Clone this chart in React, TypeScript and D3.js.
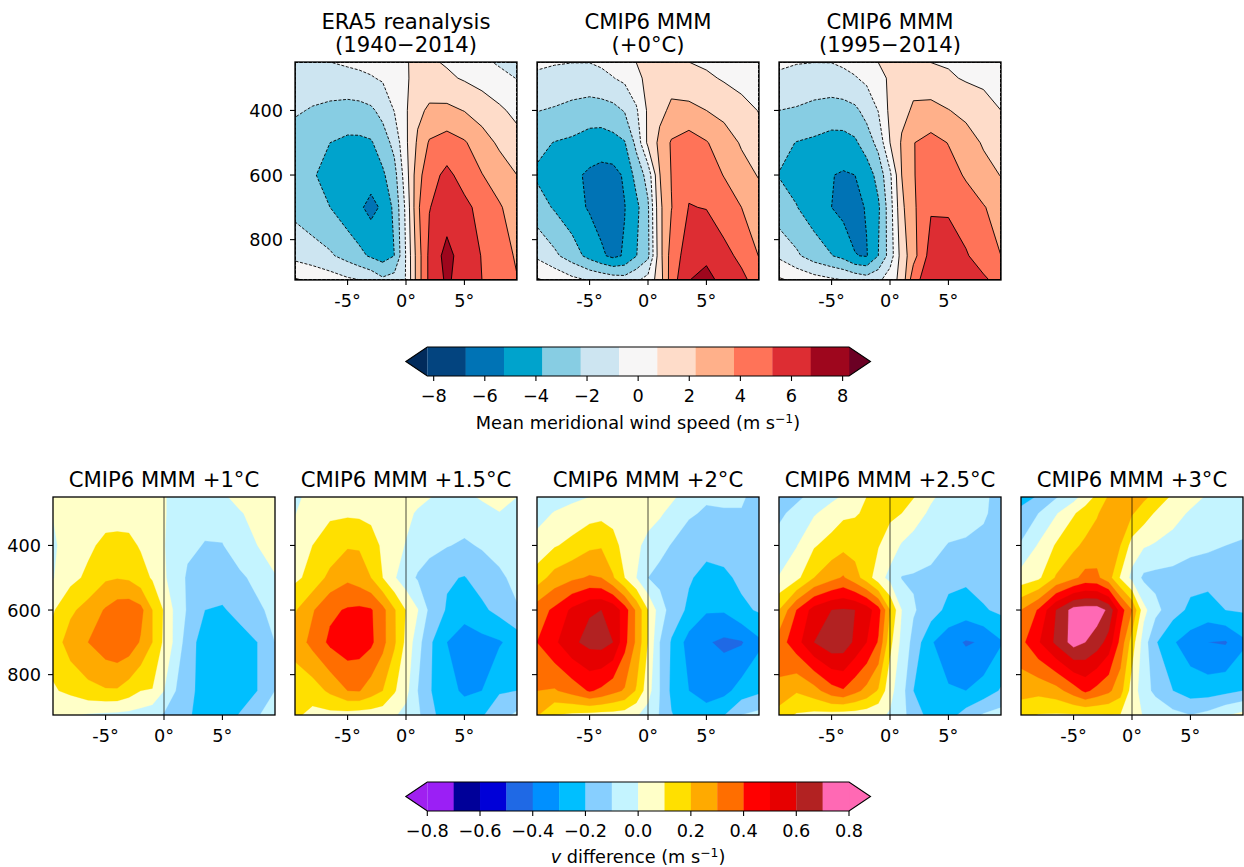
import React from "react";
import * as d3 from "d3";

const lats = [-9.5, -8, -6.5, -5, -4, -3, -2, -1, 0, 1, 2, 3.5, 5, 6.5, 8, 9.5];
const levelsP = [250, 300, 400, 500, 600, 700, 850, 925];
const yTickVals = [400, 600, 800];
const xTickVals = [-5, 0, 5];
const xTickText = ["-5°", "0°", "5°"];

const era5 = [
  [-1.4,-1.0,-0.75,-0.55,-0.45,-0.35,-0.25,-0.1,0.65,1.1,0.95,0.6,0.2,-0.45,-0.95,-1.4],
  [-1.8,-1.6,-1.4,-1.2,-1.05,-0.85,-0.6,-0.3,0.6,1.2,1.4,1.0,0.6,0.2,-0.3,-0.8],
  [-2.1,-2.35,-2.6,-2.8,-2.75,-2.5,-1.8,-0.7,0.6,1.9,2.5,2.6,2.2,1.6,1.0,0.35],
  [-2.8,-3.3,-3.75,-4.05,-4.05,-3.9,-3.0,-1.8,0.5,2.5,3.9,4.4,3.9,2.9,2.0,1.3],
  [-3.0,-3.6,-4.3,-4.6,-4.7,-4.6,-4.0,-2.8,0.1,3.2,4.7,5.6,4.7,3.8,3.0,2.25],
  [-2.7,-3.2,-3.75,-4.6,-5.0,-5.7,-5.0,-3.4,-0.4,3.5,5.2,5.9,5.6,4.8,3.9,3.0],
  [-1.2,-1.6,-2.05,-2.8,-3.4,-3.95,-4.4,-3.75,-0.65,3.0,5.6,7.3,5.9,5.2,4.3,3.6],
  [0.9,0.5,0,-0.5,-0.72,-1.1,-1.95,-1.6,-0.7,3.0,5.6,7.0,6.0,5.25,4.5,3.8],
];
const mmm0 = [
  [-0.55,-0.65,-0.72,-0.72,-0.55,-0.3,0.1,0.77,1.2,1.4,1.2,0.75,0.5,0.3,0.15,0.05],
  [-0.95,-1.15,-1.3,-1.3,-1.1,-0.8,-0.45,0.3,1.2,1.6,1.8,1.5,1.0,0.6,0.3,0.1],
  [-2.2,-2.4,-2.7,-2.95,-2.9,-2.7,-2.15,-0.95,1.0,1.9,2.5,2.55,2.25,1.8,1.2,0.7],
  [-3.4,-3.8,-4.0,-4.4,-4.5,-4.25,-3.85,-1.85,1.1,2.6,3.9,4.5,3.85,3.0,2.1,1.2],
  [-3.95,-4.3,-4.9,-5.5,-5.75,-5.75,-5.05,-3.2,-1.7,2.2,3.8,4.9,4.4,3.7,2.8,2.15],
  [-3.1,-3.9,-4.7,-5.4,-5.85,-5.9,-5.3,-4.15,-2.45,1.9,3.7,5.3,5.2,4.45,3.75,2.9],
  [-1.0,-1.95,-3.0,-4.25,-5.0,-5.6,-5.1,-3.8,-2.6,1.7,4.4,6.0,6.3,5.7,4.9,3.7],
  [0.9,0.4,-0.35,-0.85,-1.1,-1.4,-1.6,-1.0,-0.2,1.5,4.5,6.7,7.4,6.1,5.6,4.6],
];
const mmmRecent = [
  [-0.6,-0.68,-0.73,-0.72,-0.55,-0.3,0.0,0.77,1.15,1.3,1.15,0.72,0.6,0.45,0.3,0.15],
  [-0.9,-1.15,-1.3,-1.3,-1.1,-0.85,-0.45,0.2,1.0,1.5,1.9,1.65,0.95,0.6,0.45,0.3],
  [-2.25,-2.4,-2.7,-2.9,-2.85,-2.55,-1.75,-0.7,1.1,1.9,2.4,2.55,2.3,1.85,1.3,0.75],
  [-3.3,-3.8,-4.0,-4.3,-4.3,-4.0,-3.0,-1.8,0.75,2.4,3.7,4.3,3.7,2.9,2.1,1.25],
  [-3.8,-4.2,-4.8,-5.2,-5.4,-5.25,-4.6,-3.2,-1.05,2.25,3.65,4.7,4.3,3.6,2.75,2.2],
  [-3.2,-3.7,-4.5,-5.25,-5.7,-5.8,-5.1,-4.0,-1.4,1.9,3.5,5.1,5.05,4.4,3.85,3.1],
  [-1.0,-2.0,-3.0,-3.7,-4.2,-5.2,-5.35,-3.75,-1.6,1.4,3.2,5.9,6.0,5.4,4.5,3.75],
  [0.95,0.45,-0.1,-0.5,-0.75,-1.1,-1.5,-1.1,0.1,1.2,4.7,6.2,6.4,6.0,5.5,4.7],
];
const diff1 = [
  [0.01,0.04,0.05,0.05,0.05,0.05,0.04,0.02,0.005,-0.02,-0.04,-0.05,-0.01,0.02,0.04,0.05],
  [0.002,0.04,0.05,0.06,0.06,0.06,0.05,0.04,0.005,-0.02,-0.05,-0.07,-0.05,-0.005,0.02,0.04],
  [-0.01,0.03,0.08,0.125,0.13,0.125,0.09,0.05,0.005,-0.05,-0.08,-0.105,-0.105,-0.04,0.0,0.03],
  [-0.005,0.07,0.12,0.185,0.195,0.185,0.14,0.09,0.01,-0.04,-0.115,-0.17,-0.15,-0.12,-0.07,-0.005],
  [0.09,0.18,0.24,0.31,0.35,0.36,0.33,0.2,0.09,-0.03,-0.11,-0.2,-0.21,-0.17,-0.12,-0.07],
  [0.14,0.25,0.3,0.36,0.38,0.36,0.29,0.2,0.08,-0.03,-0.15,-0.25,-0.26,-0.24,-0.2,-0.1],
  [0.09,0.12,0.17,0.19,0.19,0.15,0.1,0.095,0.0,-0.1,-0.17,-0.24,-0.25,-0.24,-0.2,-0.1],
  [0.05,0.01,-0.01,-0.02,-0.025,-0.03,-0.04,-0.07,-0.11,-0.14,-0.19,-0.23,-0.24,-0.195,-0.105,-0.07],
];
const diff15 = [
  [-0.02,0.03,0.05,0.06,0.06,0.06,0.06,0.05,0.04,0.025,0.005,-0.035,-0.02,0.01,0.02,0.0],
  [-0.005,0.07,0.09,0.085,0.08,0.07,0.05,0.03,0.02,-0.01,-0.04,-0.07,-0.05,-0.03,-0.002,-0.015],
  [0.05,0.1,0.13,0.19,0.19,0.15,0.08,0.03,-0.005,-0.05,-0.08,-0.095,-0.115,-0.09,-0.06,-0.03],
  [0.08,0.13,0.23,0.28,0.25,0.2,0.1,0.01,-0.06,-0.11,-0.13,-0.19,-0.205,-0.16,-0.12,-0.07],
  [0.19,0.29,0.38,0.41,0.42,0.41,0.33,0.21,0.095,0.005,-0.12,-0.21,-0.27,-0.22,-0.17,-0.11],
  [0.24,0.33,0.42,0.46,0.45,0.42,0.33,0.215,0.075,-0.06,-0.18,-0.3,-0.34,-0.33,-0.31,-0.26],
  [0.14,0.15,0.22,0.3,0.305,0.25,0.2,0.11,0.03,-0.1,-0.19,-0.28,-0.31,-0.3,-0.21,-0.2],
  [0.12,0.07,0.07,0.06,0.05,0.05,0.04,0.01,-0.03,-0.08,-0.17,-0.25,-0.27,-0.21,-0.14,-0.08],
];
const diff2 = [
  [-0.05,-0.04,-0.02,0.0,0.02,0.03,0.04,0.05,0.05,0.03,0.02,-0.05,-0.09,-0.08,-0.09,-0.13],
  [-0.03,0.005,0.03,0.06,0.07,0.07,0.06,0.05,0.04,0.015,-0.03,-0.09,-0.11,-0.11,-0.105,-0.13],
  [0.03,0.09,0.13,0.18,0.19,0.13,0.07,0.02,-0.03,-0.07,-0.105,-0.14,-0.17,-0.16,-0.15,-0.15],
  [0.15,0.24,0.28,0.31,0.3,0.21,0.1,0.0,-0.1,-0.13,-0.15,-0.19,-0.23,-0.22,-0.18,-0.16],
  [0.35,0.42,0.52,0.59,0.6,0.57,0.45,0.28,0.1,-0.05,-0.14,-0.22,-0.29,-0.29,-0.22,-0.19],
  [0.4,0.48,0.58,0.63,0.64,0.6,0.43,0.28,0.095,-0.1,-0.21,-0.34,-0.39,-0.42,-0.41,-0.32],
  [0.3,0.29,0.34,0.41,0.38,0.33,0.29,0.19,0.04,-0.1,-0.22,-0.3,-0.33,-0.33,-0.26,-0.22],
  [0.21,0.1,0.08,0.07,0.06,0.06,0.05,0.01,-0.04,-0.105,-0.195,-0.25,-0.27,-0.205,-0.1,-0.07],
];
const diff25 = [
  [-0.15,-0.12,-0.07,-0.02,0.01,0.06,0.1,0.14,0.15,0.13,0.105,0.015,-0.04,-0.07,-0.09,-0.12],
  [-0.12,-0.07,-0.01,0.04,0.08,0.09,0.115,0.13,0.12,0.1,0.05,-0.02,-0.05,-0.07,-0.09,-0.13],
  [-0.06,-0.005,0.09,0.14,0.17,0.16,0.15,0.105,0.05,-0.01,-0.04,-0.07,-0.105,-0.11,-0.12,-0.13],
  [0.005,0.07,0.2,0.27,0.31,0.24,0.15,0.04,-0.03,-0.105,-0.11,-0.12,-0.17,-0.18,-0.16,-0.13],
  [0.2,0.4,0.54,0.6,0.61,0.6,0.55,0.44,0.2,0.0,-0.09,-0.15,-0.23,-0.25,-0.21,-0.18],
  [0.35,0.46,0.6,0.67,0.66,0.58,0.5,0.39,0.13,-0.03,-0.13,-0.29,-0.36,-0.41,-0.39,-0.31],
  [0.28,0.21,0.26,0.36,0.39,0.33,0.27,0.19,0.03,-0.06,-0.2,-0.26,-0.29,-0.3,-0.26,-0.19],
  [0.15,0.09,0.07,0.06,0.05,0.05,0.04,0.02,-0.01,-0.06,-0.16,-0.23,-0.24,-0.16,-0.09,-0.06],
];
const diff3 = [
  [-0.24,-0.19,-0.11,-0.04,0.05,0.12,0.21,0.24,0.25,0.22,0.17,0.08,0.03,-0.01,-0.03,-0.04],
  [-0.17,-0.1,-0.01,0.09,0.14,0.19,0.25,0.25,0.21,0.15,0.09,0.03,-0.01,-0.03,-0.05,-0.06],
  [-0.09,0.01,0.11,0.18,0.22,0.25,0.25,0.2,0.06,0.01,-0.01,-0.03,-0.06,-0.08,-0.1,-0.11],
  [0.04,0.08,0.21,0.28,0.33,0.32,0.24,0.09,-0.03,-0.12,-0.13,-0.14,-0.17,-0.17,-0.15,-0.13],
  [0.3,0.41,0.6,0.74,0.75,0.75,0.68,0.45,0.3,0.03,-0.07,-0.16,-0.22,-0.24,-0.2,-0.19],
  [0.37,0.49,0.62,0.74,0.7,0.65,0.56,0.37,0.15,-0.05,-0.19,-0.29,-0.35,-0.4,-0.41,-0.32],
  [0.24,0.23,0.26,0.35,0.42,0.37,0.32,0.24,0.05,-0.05,-0.13,-0.2,-0.25,-0.25,-0.23,-0.2],
  [0.13,0.095,0.09,0.09,0.09,0.09,0.095,0.095,0.03,-0.005,-0.01,-0.07,-0.1,-0.07,-0.01,0.03],
];

const windLevels = [-8.25,-6.75,-5.25,-3.75,-2.25,-0.75,0.75,2.25,3.75,5.25,6.75,8.25];
const windColors = ["#012b5c","#03447f","#0073b5","#00a3cc","#87cde3","#cde5f1","#f7f6f6","#fedcc9","#ffb08a","#ff7358","#dd2d33","#9e061d","#6b0024"];
const windTicks = [-8,-6,-4,-2,0,2,4,6,8];
const diffLevels = [-0.8,-0.7,-0.6,-0.5,-0.4,-0.3,-0.2,-0.1,0,0.1,0.2,0.3,0.4,0.5,0.6,0.7,0.8];
const diffColors = ["#a020f0","#9b1ff5","#000099","#0000d8","#1f69e5","#0090ff","#00bfff","#87cfff","#c4f4ff","#ffffc8","#ffe000","#ffaa00","#ff6e00","#ff0000","#e60000","#b22222","#ff69b4","#ff69b4"];
const diffTicks = [-0.8,-0.6,-0.4,-0.2,0,0.2,0.4,0.6,0.8];

const FONT = "'DejaVu Sans', sans-serif";
const TICK = 17.7;
const SUP = 12.4;
const TITLE = 21.2;
const PW = 222, PH = 218;

const x0 = d3.scaleLinear().domain([-9.5, 9.5]).range([0, PW]);
const y0 = d3.scaleLinear().domain([250, 925]).range([0, PH]);
const ixX = d3.scaleLinear().domain(d3.range(lats.length)).range(lats.map(v => x0(v)));
const ixY = d3.scaleLinear().domain(d3.range(levelsP.length)).range(levelsP.map(v => y0(v)));
const geo = d3.geoPath();
const fmt = (v: number, d: number) => v.toFixed(d).replace("-", "\u2212");

function bands(grid: number[][], levels: number[]) {
  const n = lats.length, m = levelsP.length;
  const c = d3.contours().size([n, m]).thresholds(levels)(grid.flat());
  return c.map(g => {
    const coords = g.coordinates.map(poly => poly.map(ring => ring.map(([px, py]) => [
      ixX(Math.min(n - 1, Math.max(0, px - 0.5))),
      ixY(Math.min(m - 1, Math.max(0, py - 0.5))),
    ])));
    return { value: g.value, d: geo({ type: "MultiPolygon", coordinates: coords } as any) || "" };
  });
}

function Panel({ id, left, top, grid, levels, colors, lines, yLabels, zero, title }: any) {
  const b = bands(grid, levels);
  return (
    <g transform={`translate(${left},${top})`}>
      <clipPath id={id}><rect width={PW} height={PH} /></clipPath>
      <g clipPath={`url(#${id})`}>
        <rect width={PW} height={PH} fill={colors[0]} />
        {b.map((s, i) => <path key={i} d={s.d} fill={colors[i + 1]} stroke={colors[i + 1]} strokeWidth={0.3} />)}
        {lines && b.map((s, i) => <path key={i} d={s.d} fill="none" stroke="#000" strokeWidth={0.9} strokeDasharray={s.value < 0 ? "3 1.6" : undefined} />)}
        {zero && <line x1={x0(0)} x2={x0(0)} y1={0} y2={PH} stroke="#000" strokeOpacity={0.7} strokeWidth={1} />}
      </g>
      <rect width={PW} height={PH} fill="none" stroke="#000" strokeWidth={1.3} />
      {xTickVals.map((v, i) => (
        <g key={v}>
          <line x1={x0(v)} x2={x0(v)} y1={PH} y2={PH + 5} stroke="#000" strokeWidth={1.1} />
          <text x={x0(v)} y={PH + 27} textAnchor="middle" fontSize={TICK} fontFamily={FONT}>{xTickText[i]}</text>
        </g>
      ))}
      {yTickVals.map(v => (
        <g key={v}>
          <line x1={-5} x2={0} y1={y0(v)} y2={y0(v)} stroke="#000" strokeWidth={1.1} />
          {yLabels && <text x={-12} y={y0(v) + 6.5} textAnchor="end" fontSize={TICK} fontFamily={FONT}>{v}</text>}
        </g>
      ))}
      {title.map((t: string, i: number) => (
        <text key={i} x={PW / 2} y={-10 - (title.length - 1 - i) * 23} textAnchor="middle" fontSize={TITLE} fontFamily={FONT}>{t}</text>
      ))}
    </g>
  );
}

function Colorbar({ top, levels, colors, ticks, digits, children }: any) {
  const L = 427.3, R = 849, H = 29, tip = 21.5;
  const x = d3.scaleLinear().domain([levels[0], levels[levels.length - 1]]).range([L, R]);
  const outline = `M${L},${top}L${R},${top}L${R + tip},${top + H / 2}L${R},${top + H}L${L},${top + H}L${L - tip},${top + H / 2}Z`;
  return (
    <g>
      <path d={`M${L},${top}L${L - tip},${top + H / 2}L${L},${top + H}Z`} fill={colors[0]} />
      <path d={`M${R},${top}L${R + tip},${top + H / 2}L${R},${top + H}Z`} fill={colors[colors.length - 1]} />
      {levels.slice(0, -1).map((v: number, i: number) => (
        <rect key={i} x={x(v)} y={top} width={x(levels[i + 1]) - x(v) + 0.3} height={H} fill={colors[i + 1]} />
      ))}
      <path d={outline} fill="none" stroke="#000" strokeWidth={1.1} />
      {ticks.map((t: number) => (
        <g key={t}>
          <line x1={x(t)} x2={x(t)} y1={top + H} y2={top + H + 5} stroke="#000" strokeWidth={1.1} />
          <text x={x(t)} y={top + H + 26} textAnchor="middle" fontSize={TICK} fontFamily={FONT}>{fmt(t, digits)}</text>
        </g>
      ))}
      {children}
    </g>
  );
}

const topPanels = [
  { id: "t1", left: 295, grid: era5, title: ["ERA5 reanalysis", "(1940\u22122014)"], yLabels: true },
  { id: "t2", left: 537, grid: mmm0, title: ["CMIP6 MMM", "(+0°C)"], yLabels: false },
  { id: "t3", left: 779, grid: mmmRecent, title: ["CMIP6 MMM", "(1995\u22122014)"], yLabels: false },
];
const bottomPanels = [
  { id: "b1", left: 53, grid: diff1, title: ["CMIP6 MMM +1°C"], yLabels: true },
  { id: "b2", left: 295, grid: diff15, title: ["CMIP6 MMM +1.5°C"], yLabels: false },
  { id: "b3", left: 537, grid: diff2, title: ["CMIP6 MMM +2°C"], yLabels: false },
  { id: "b4", left: 779, grid: diff25, title: ["CMIP6 MMM +2.5°C"], yLabels: false },
  { id: "b5", left: 1021, grid: diff3, title: ["CMIP6 MMM +3°C"], yLabels: false },
];

export default function App() {
  return (
    <svg width={1244} height={867} viewBox="0 0 1244 867" style={{ position: "absolute", left: 0, top: 0, background: "#fff" }}>
      {topPanels.map(p => <Panel key={p.id} {...p} top={62} levels={windLevels} colors={windColors} lines zero={false} />)}
      {bottomPanels.map(p => <Panel key={p.id} {...p} top={497} levels={diffLevels} colors={diffColors} lines={false} zero />)}
      <Colorbar top={347} levels={windLevels} colors={windColors} ticks={windTicks} digits={0}>
        <text x={638} y={429} textAnchor="middle" fontSize={TICK} fontFamily={FONT}>
          Mean meridional wind speed (m s<tspan dy={-6} fontSize={SUP}>{"\u22121"}</tspan><tspan dy={6}>)</tspan>
        </text>
      </Colorbar>
      <Colorbar top={782} levels={diffLevels} colors={diffColors} ticks={diffTicks} digits={1}>
        <text x={638} y={863} textAnchor="middle" fontSize={TICK} fontFamily={FONT}>
          <tspan fontStyle="italic">v</tspan> difference (m s<tspan dy={-6} fontSize={SUP}>{"\u22121"}</tspan><tspan dy={6}>)</tspan>
        </text>
      </Colorbar>
    </svg>
  );
}
